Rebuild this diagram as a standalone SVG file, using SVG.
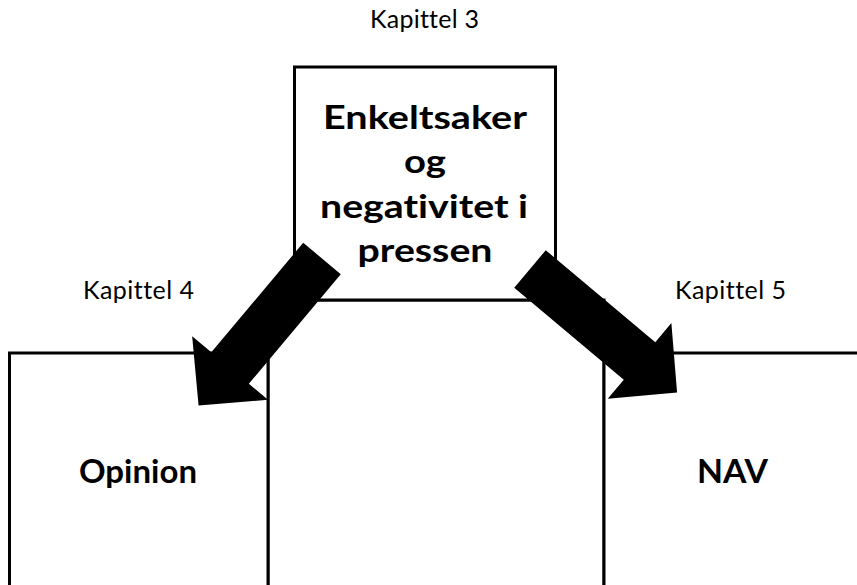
<svg xmlns="http://www.w3.org/2000/svg" width="857" height="585" viewBox="0 0 857 585">
  <style>
    .box { fill: #ffffff; stroke: #000000; stroke-width: 3; }
    .lbl { font-family: Lato, "Liberation Sans", sans-serif; font-size: 25px; fill: #000000; font-variant-ligatures: none; }
    .bold { font-family: Lato, "Liberation Sans", sans-serif; font-size: 33px; font-weight: bold; fill: #000000; text-anchor: middle; font-variant-ligatures: none; }
    .arrow { fill: #000000; stroke: none; }
  </style>
  <defs>
    <path id="blockArrow" d="M0,-24.5 L143,-24.5 L143,-49.5 L192,0 L143,49.5 L143,24.5 L0,24.5 Z"/>
  </defs>
  <rect width="857" height="585" fill="#ffffff"/>

  <g id="middle">
    <rect class="box" x="268" y="300" width="336" height="300"/>
  </g>
  <g id="opinion">
    <rect class="box" x="9.5" y="353" width="258.5" height="250"/>
    <text class="bold" x="138" y="483" textLength="118" lengthAdjust="spacingAndGlyphs">Opinion</text>
    <text class="lbl" x="83" y="299" textLength="111">Kapittel 4</text>
  </g>
  <g id="nav">
    <rect class="box" x="604" y="353" width="270" height="250"/>
    <text class="bold" x="732.5" y="483" textLength="71" lengthAdjust="spacingAndGlyphs">NAV</text>
    <text class="lbl" x="675" y="299" textLength="111">Kapittel 5</text>
  </g>
  <g id="enkeltsaker">
    <rect class="box" x="294.5" y="67" width="261" height="233"/>
    <text class="bold" x="425" y="129" textLength="204" lengthAdjust="spacingAndGlyphs">Enkeltsaker</text>
    <text class="bold" x="425" y="173" textLength="42" lengthAdjust="spacingAndGlyphs">og</text>
    <text class="bold" x="424" y="218" textLength="208" lengthAdjust="spacingAndGlyphs">negativitet i</text>
    <text class="bold" x="425" y="262" textLength="135" lengthAdjust="spacingAndGlyphs">pressen</text>
    <text class="lbl" x="370" y="28" textLength="109">Kapittel 3</text>
  </g>

  <g id="connectors">
    <use href="#blockArrow" class="arrow" transform="translate(322,258.5) rotate(130)"/>
    <use href="#blockArrow" class="arrow" transform="translate(530,269) rotate(40)"/>
  </g>
</svg>
